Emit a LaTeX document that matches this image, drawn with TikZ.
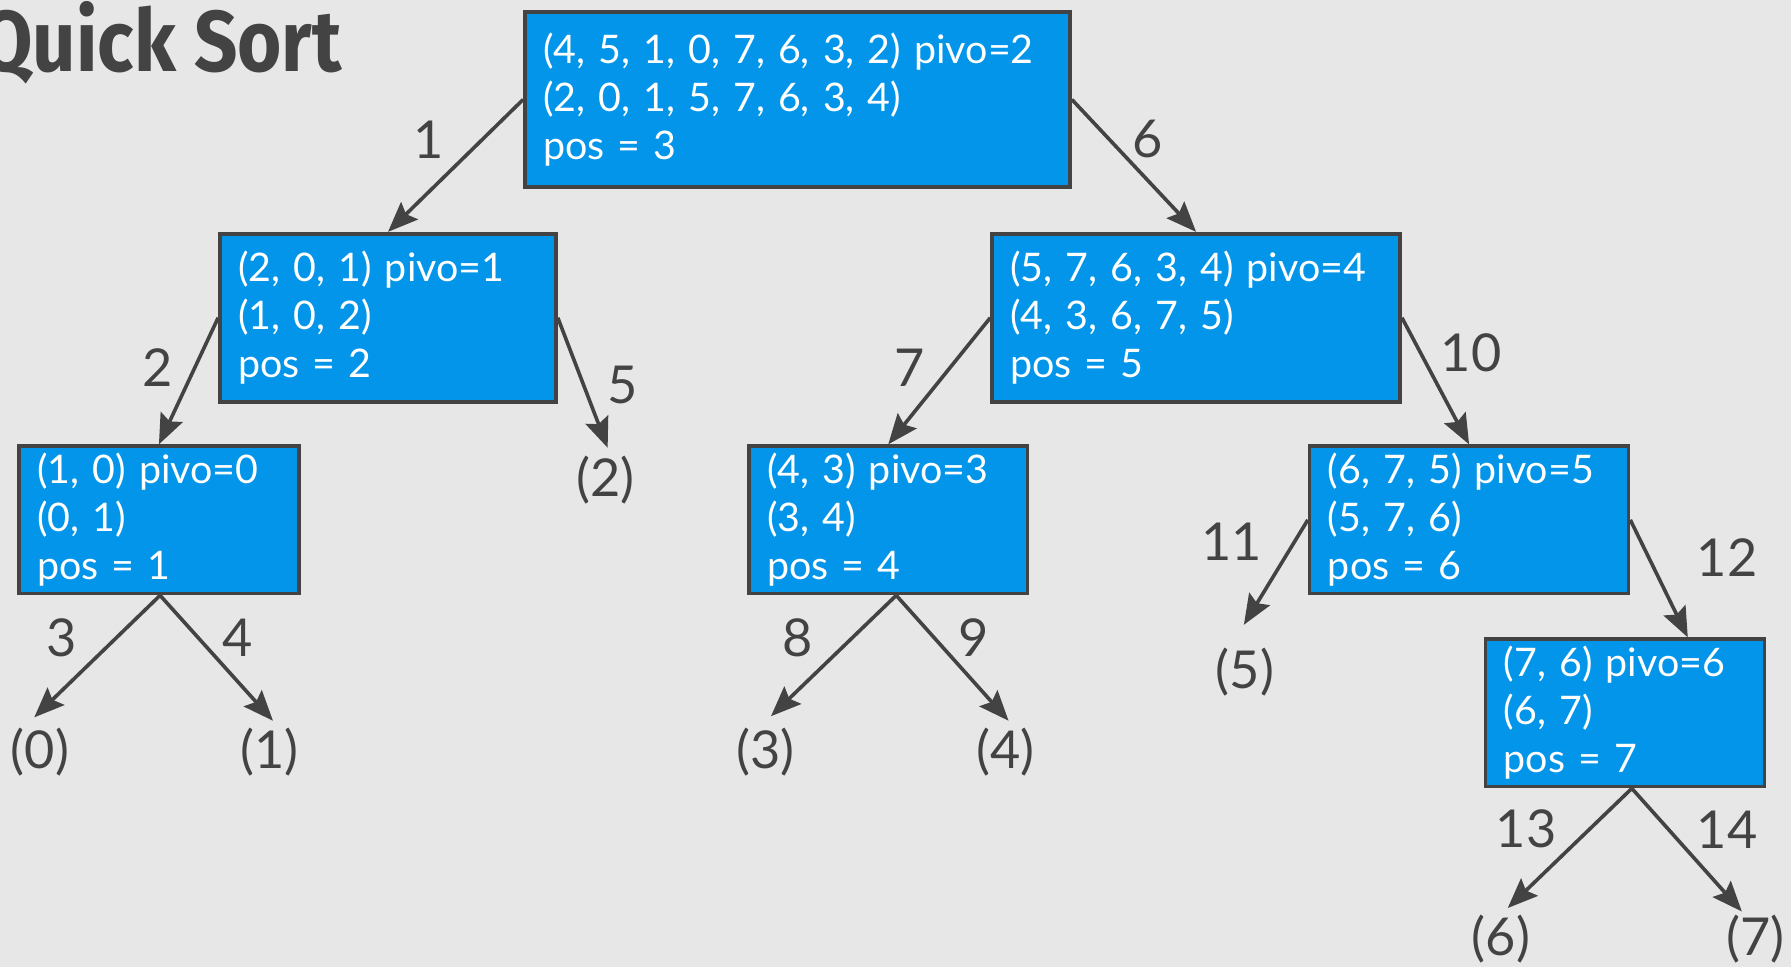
\documentclass[tikz,border=0pt]{standalone}
\usepackage{fontspec}
\setmainfont{Lato}
\newfontfamily\titlefont[FakeStretch=0.88]{Fira Sans}
\usetikzlibrary{arrows.meta,calc}
\definecolor{bg}{HTML}{E7E7E7}
\definecolor{boxblue}{HTML}{0395E9}
\definecolor{ink}{HTML}{434343}
\begin{document}
\begin{tikzpicture}[x=0.01cm,y=-0.01cm,
  box/.style={draw=ink, line width=0.9pt, fill=boxblue, text=white, anchor=north west, align=left, inner xsep=0.16cm, inner ysep=0pt, font=\fontsize{9.8}{11.95}\selectfont},
  leaf/.style={text=ink, font=\fontsize{13}{15}\selectfont, inner sep=3pt},
  lab/.style={text=ink, font=\fontsize{13}{15}\selectfont, inner sep=0pt},
  arr/.style={draw=ink, line width=0.9pt, -{Stealth[length=7.5pt,width=6pt,inset=1.2pt]}}
]
\fill[bg] (0,0) rectangle (1568,847);
\useasboundingbox (0,0) rectangle (1568,847);

\node[anchor=base east, inner sep=0pt, text=ink, font=\titlefont\bfseries\fontsize{21.5}{25}\selectfont] (title) at (300,63) {Quick Sort};

\node[box, minimum height=1.53cm, text width=4.45cm] (root) at (458,9) {(4, 5, 1, 0, 7, 6, 3, 2) pivo=2\\(2, 0, 1, 5, 7, 6, 3, 4)\\pos = 3};
\node[box, minimum height=1.47cm, text width=2.62cm] (A) at (191,203) {(2, 0, 1) pivo=1\\(1, 0, 2)\\pos = 2};
\node[box, minimum height=1.47cm, text width=3.25cm] (B) at (867,203) {(5, 7, 6, 3, 4) pivo=4\\(4, 3, 6, 7, 5)\\pos = 5};
\node[box, minimum height=1.29cm, text width=2.13cm] (C) at (15,389) {(1, 0) pivo=0\\(0, 1)\\pos = 1};
\node[box, minimum height=1.29cm, text width=2.12cm] (D) at (654,389) {(4, 3) pivo=3\\(3, 4)\\pos = 4};
\node[box, minimum height=1.29cm, text width=2.47cm] (E) at (1145,389) {(6, 7, 5) pivo=5\\(5, 7, 6)\\pos = 6};
\node[box, minimum height=1.29cm, text width=2.12cm] (F) at (1299,558) {(7, 6) pivo=6\\(6, 7)\\pos = 7};

\node[leaf] (l0) at (35,658) {(0)};
\node[leaf] (l1) at (236,658) {(1)};
\node[leaf] (l2) at (530,420) {(2)};
\node[leaf] (l3) at (670,658) {(3)};
\node[leaf] (l4) at (880,658) {(4)};
\node[leaf] (l5) at (1090,588) {(5)};
\node[leaf] (l6) at (1314,822) {(6)};
\node[leaf] (l7) at (1537,822) {(7)};

\coordinate (csouth) at ($(C.south)+(1,0)$);
\coordinate (dsouth) at ($(D.south)+(7,0)$);
\coordinate (fsouth) at ($(F.south)+(6,0)$);
\coordinate (ftop) at ($(F.north)+(55,0)$);
\coordinate (t0) at ($(l0)+(-5,-30)$);
\coordinate (t1) at ($(l1)+(3,-27)$);
\coordinate (t2) at ($(l2)+(2,-28)$);
\coordinate (t3) at ($(l3)+(5,-31)$);
\coordinate (t4) at ($(l4)+(3,-27)$);
\coordinate (t5) at ($(l5)+(-1,-41)$);
\coordinate (t6) at ($(l6)+(6,-27)$);
\coordinate (t7) at ($(l7)+(-12,-24)$);

\draw[arr] (root.west) -- (A.north);
\draw[arr] (root.east) -- (B.north);
\draw[arr] (A.west) -- (C.north);
\draw[arr] (A.east) -- (t2);
\draw[arr] (B.west) -- (D.north);
\draw[arr] (B.east) -- (E.north);
\draw[arr] (csouth) -- (t0);
\draw[arr] (csouth) -- (t1);
\draw[arr] (dsouth) -- (t3);
\draw[arr] (dsouth) -- (t4);
\draw[arr] (E.west) -- (t5);
\draw[arr] (E.east) -- (ftop);
\draw[arr] (fsouth) -- (t6);
\draw[arr] (fsouth) -- (t7);

\node[lab] (e1) at (375,122) {1};
\node[lab] (e6) at (1005,122) {6};
\node[lab] (e2) at (138,322) {2};
\node[lab] (e5) at (545,337) {5};
\node[lab] (e7) at (796,322) {7};
\node[lab] (e10) at (1288,309) {10};
\node[lab] (e3) at (54,558) {3};
\node[lab] (e4) at (208,558) {4};
\node[lab] (e8) at (698,558) {8};
\node[lab] (e9) at (852,558) {9};
\node[lab] (e11) at (1078,474) {11};
\node[lab] (e12) at (1512,488) {12};
\node[lab] (e13) at (1336,726) {13};
\node[lab] (e14) at (1512,726) {14};
\end{tikzpicture}
\end{document}
